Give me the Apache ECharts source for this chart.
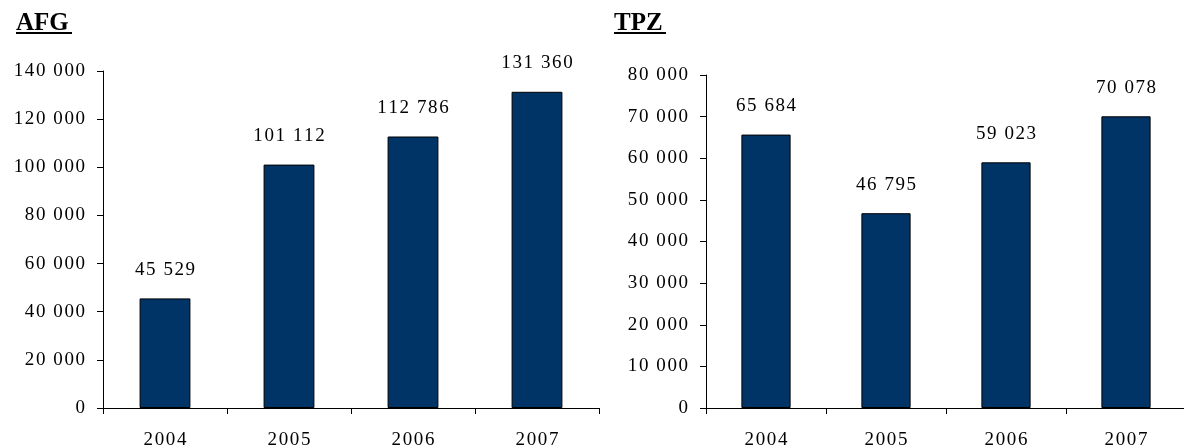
<!DOCTYPE html>
<html>
<head>
<meta charset="utf-8">
<script src="https://cdn.jsdelivr.net/npm/echarts@6/dist/echarts.min.js"></script>
<style>
  html, body { margin: 0; padding: 0; background: #fff; }
  #chart { width: 1184px; height: 448px; }
</style>
</head>
<body>
<div id="chart"></div>
<script>
// Yearly totals for two funds
const years = ['2004', '2005', '2006', '2007'];
const afgValues = [45529, 101112, 112786, 131360];
const tpzValues = [65684, 46795, 59023, 70078];
const afgTitle = 'AFG';
const tpzTitle = 'TPZ';

const FONT = '"Liberation Serif", "Times New Roman", serif';
const BAR = '#003366';
const SIZE = 19;

// thousands separated by a space, letters slightly spread apart
function fmt(v) {
  return String(Math.round(v)).replace(/\B(?=(\d{3})+(?!\d))/g, ' ');
}
function spaced(s) {
  return String(s).split('').join('\u200A');
}

function xAxis(gridIndex) {
  return {
    type: 'category', gridIndex, data: years,
    axisLine: { lineStyle: { color: '#000', width: 1 } },
    axisTick: { show: true, length: 6, lineStyle: { color: '#000' } },
    axisLabel: { color: '#000', fontFamily: FONT, fontSize: SIZE, margin: 23, formatter: v => spaced(v) }
  };
}
function yAxis(gridIndex, max, interval) {
  return {
    type: 'value', gridIndex, min: 0, max, interval,
    axisLine: { show: true, lineStyle: { color: '#000', width: 1 } },
    axisTick: { show: true, length: 6, lineStyle: { color: '#000' } },
    splitLine: { show: false },
    axisLabel: { color: '#000', fontFamily: FONT, fontSize: SIZE, margin: 18, formatter: v => spaced(fmt(v)) }
  };
}
function bars(idx, data) {
  return {
    type: 'bar', xAxisIndex: idx, yAxisIndex: idx, data,
    barWidth: '41%',
    itemStyle: { color: BAR, borderColor: '#000', borderWidth: 1 },
    label: {
      show: true, position: 'top', distance: 19,
      color: '#000', fontFamily: FONT, fontSize: SIZE,
      formatter: p => spaced(fmt(p.value))
    }
  };
}
// bold underlined heading above each panel
function heading(text, x, width) {
  return [
    { type: 'text', left: x, top: 11,
      style: { text, fontFamily: FONT, fontSize: 25, fontWeight: 'bold', fill: '#000' } },
    { type: 'rect', left: x, top: 32, shape: { width, height: 2 }, style: { fill: '#000' } }
  ];
}

const chart = echarts.init(document.getElementById('chart'), null, { renderer: 'canvas' });
chart.setOption({
  animation: false,
  graphic: [...heading(afgTitle, 16, 56), ...heading(tpzTitle, 614, 52)],
  grid: [
    { left: 103, right: 585, top: 71, bottom: 40, outerBoundsMode: 'none' },
    { left: 706, right: -2, top: 75, bottom: 40, outerBoundsMode: 'none' }
  ],
  xAxis: [xAxis(0), xAxis(1)],
  yAxis: [yAxis(0, 140000, 20000), yAxis(1, 80000, 10000)],
  series: [bars(0, afgValues), bars(1, tpzValues)]
});
</script>
</body>
</html>
